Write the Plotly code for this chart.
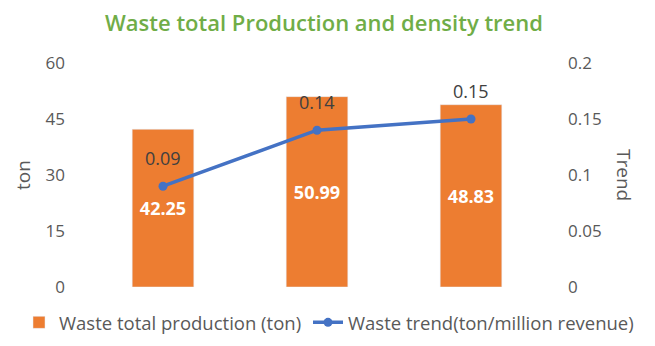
import plotly.graph_objects as go

# Chart data
categories = ["1", "2", "3"]
production_ton = [42.25, 50.99, 48.83]
trend_values = [0.09, 0.14, 0.15]

title_text = "Waste total Production and density trend"
bar_name = "Waste total production (ton)"
line_name = "Waste trend(ton/million revenue)"
left_title = "ton"
right_title = "Trend"
left_ticks = [0, 15, 30, 45, 60]
right_ticks = [0, 0.05, 0.1, 0.15, 0.2]

FONT = "Open Sans"
GREY = "#595959"
ORANGE = "#ED7D31"
BLUE = "#4472C4"

fig = go.Figure()

fig.add_trace(go.Bar(
    x=categories,
    y=production_ton,
    name=bar_name,
    marker_color=ORANGE,
    width=0.4,
    text=[f"{v:.2f}" for v in production_ton],
    textposition="inside",
    insidetextanchor="middle",
    textfont=dict(family=FONT, size=18, color="white", weight="bold"),
    yaxis="y",
    legend="legend",
))

fig.add_trace(go.Scatter(
    x=categories,
    y=trend_values,
    name=line_name,
    mode="lines+markers",
    line=dict(color=BLUE, width=3.5),
    marker=dict(color=BLUE, size=9),
    yaxis="y2",
    legend="legend2",
))

# value labels above the trend points (category axis positions by index)
annotations = [
    dict(x=i, y=v, xref="x", yref="y2", text=f"{v:.2f}", showarrow=False,
         yanchor="middle", yshift=28,
         font=dict(family=FONT, size=18, color="#404040"))
    for i, v in enumerate(trend_values)
]

# axis titles
annotations += [
    dict(x=0, y=0.5, xref="paper", yref="paper", text=left_title, showarrow=False,
         textangle=-90, xanchor="center", yanchor="middle", xshift=-63,
         font=dict(family=FONT, size=19, color=GREY)),
    dict(x=1, y=0.5, xref="paper", yref="paper", text=right_title, showarrow=False,
         textangle=90, xanchor="center", yanchor="middle", xshift=76,
         font=dict(family=FONT, size=19, color=GREY)),
]

legend_style = dict(
    orientation="h", xanchor="left", xref="container",
    y=-0.16, yanchor="middle", yref="paper",
    font=dict(size=18.5, color=GREY), itemwidth=30,
    bgcolor="rgba(0,0,0,0)",
)

fig.update_layout(
    width=655,
    height=346,
    margin=dict(l=86, r=107, t=63, b=59, autoexpand=False),
    paper_bgcolor="white",
    plot_bgcolor="white",
    font=dict(family=FONT, size=17, color=GREY),
    title=dict(
        text=title_text,
        x=324 / 655, xref="container", xanchor="center",
        y=1 - 23 / 346, yanchor="middle", yref="container",
        font=dict(family=FONT, size=22, color="#70AD47", weight=600),
    ),
    xaxis=dict(showticklabels=False, showgrid=False, zeroline=False, showline=False,
               range=[-0.5, 2.5]),
    yaxis=dict(
        range=[0, 60], tickvals=left_ticks, showgrid=False, zeroline=False,
        ticks="", ticklabelstandoff=20,
        tickfont=dict(size=17, color=GREY),
    ),
    yaxis2=dict(
        range=[0, 0.2], tickvals=right_ticks, ticktext=[str(t) for t in right_ticks],
        overlaying="y", side="right", showgrid=False, zeroline=False,
        ticks="", ticklabelstandoff=19,
        tickfont=dict(size=17, color=GREY),
    ),
    legend=dict(legend_style, x=19 / 655),
    legend2=dict(legend_style, x=308 / 655),
    annotations=annotations,
    showlegend=True,
)

fig.write_html("out.html")
